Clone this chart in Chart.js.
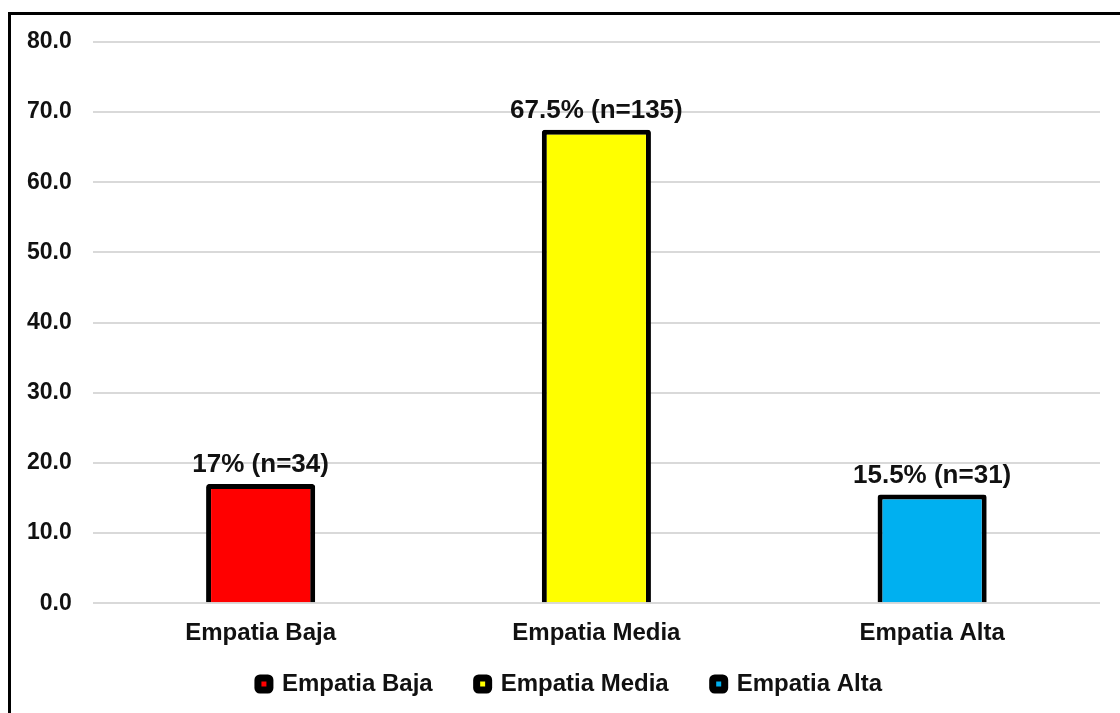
<!DOCTYPE html>
<html>
<head>
<meta charset="utf-8">
<script src="https://cdn.jsdelivr.net/npm/chart.js@4"></script>
<style>
  body { margin: 0; background: #fff; overflow: hidden; }
  #frame { position: absolute; left: 8px; top: 12px; width: 1200px; height: 800px; border: 3px solid #000; }
  #wrap { position: absolute; left: 0; top: 0; width: 1120px; height: 713px; }
</style>
</head>
<body>
<div id="frame"></div>
<div id="wrap"><canvas id="chart" width="1120" height="713"></canvas></div>
<script>
const categories = ['Empatia Baja', 'Empatia Media', 'Empatia Alta'];
const percentages = [17, 67.5, 15.5];
const counts = [34, 135, 31];
const barColors = ['#ff0000', '#ffff00', '#00b0f0'];
const yTicks = [0, 10, 20, 30, 40, 50, 60, 70, 80];

const font = 'Liberation Sans, Arial, sans-serif';
const textColor = '#111';
const legendGap = 44;

// draw the "17% (n=34)" labels above each bar
const barLabels = {
  id: 'barLabels',
  afterDatasetsDraw(chart) {
    const ctx = chart.ctx;
    const meta = chart.getDatasetMeta(0);
    ctx.save();
    ctx.font = 'bold 26px ' + font;
    ctx.fillStyle = textColor;
    ctx.textAlign = 'center';
    ctx.textBaseline = 'bottom';
    meta.data.forEach((bar, i) => {
      ctx.fillText(percentages[i] + '% (n=' + counts[i] + ')', bar.x, bar.y - 6);
    });
    ctx.restore();
  }
};

// wide gaps between legend items, but keep the row close to the axis labels
const legendNudge = {
  id: 'legendNudge',
  afterLayout(chart) {
    chart.legend.top -= legendGap - 16;
    chart.legend.left += 34;
  }
};

new Chart(document.getElementById('chart'), {
  type: 'bar',
  data: {
    labels: categories,
    datasets: [{
      data: percentages,
      backgroundColor: barColors,
      borderColor: '#000',
      borderWidth: 5,
      borderRadius: 3,
      barPercentage: 0.325,
      categoryPercentage: 1
    }]
  },
  options: {
    responsive: false,
    animation: false,
    layout: { padding: { left: 6, right: 20, top: 42, bottom: 15 } },
    plugins: {
      tooltip: { enabled: false },
      legend: {
        position: 'bottom',
        maxHeight: 42,
        labels: {
          color: textColor,
          font: { family: font, size: 24, weight: 'bold' },
          boxWidth: 12,
          boxHeight: 12,
          padding: legendGap,
          useBorderRadius: true,
          borderRadius: 2,
          generateLabels: () => categories.map((c, i) => ({
            text: c,
            fillStyle: barColors[i],
            strokeStyle: '#000',
            fontColor: textColor,
            lineWidth: 7,
            borderRadius: 2,
            hidden: false,
            index: i
          }))
        }
      }
    },
    scales: {
      x: {
        grid: { display: false },
        border: { display: false },
        ticks: { color: textColor, font: { family: font, size: 24, weight: 'bold' }, padding: 8 }
      },
      y: {
        min: 0,
        max: 80,
        afterBuildTicks: axis => { axis.ticks = yTicks.map(v => ({ value: v })); },
        grid: { color: '#d9d9d9', lineWidth: 2, drawTicks: false },
        border: { display: false },
        ticks: {
          color: textColor,
          font: { family: font, size: 23, weight: 'bold' },
          padding: 21,
          callback: v => v.toFixed(1)
        }
      }
    }
  },
  plugins: [barLabels, legendNudge]
});
</script>
</body>
</html>
